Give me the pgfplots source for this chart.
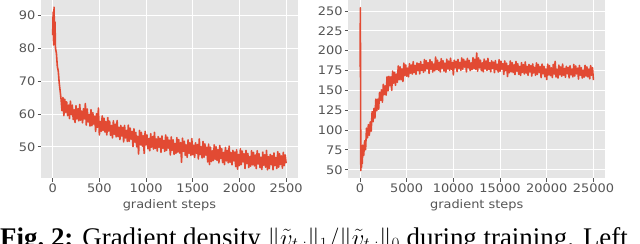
\documentclass[border=0pt]{standalone}
\usepackage{fontspec}
\setmainfont{Liberation Serif}
\newfontfamily\dejavu[FakeStretch=1.1]{DejaVu Sans}
\usepackage{pgfplots}
\usepackage{pgfplotstable}
\pgfplotsset{compat=1.18}
\definecolor{ggbg}{HTML}{E5E5E5}
\definecolor{ggred}{HTML}{E24A33}
\definecolor{gggray}{HTML}{555555}

\pgfplotstableread{
x y
0 84
5 91
10 81
15 92.5
20 82.5
25 88
30 80
40 78.5
50 74.5
60 73
70 69.5
80 67
90 64.5
100 61
110 65
120 59.5
130 64.5
140 60.5
150 63.7
160 59.5
170 62.7
180 58.6
190 63.9
200 59.8
210 62.7
220 58.3
230 61.3
240 57.4
250 62.5
260 58.5
270 61.6
280 57.9
290 62.9
300 58.1
310 60.9
320 57.3
330 61.6
340 58.5
350 63.2
360 56.6
370 61.5
380 57.6
390 59.8
400 56.3
410 61.3
420 56.4
430 60.4
440 56.9
450 59.3
460 54.7
470 60.1
480 55.9
490 61.8
500 53.6
510 57.7
520 54.7
530 59.4
540 55.0
550 58.7
560 54.5
570 57.7
580 53.6
590 58.9
600 54.8
610 57.8
620 53.5
630 56.5
640 52.7
650 57.9
660 53.8
670 56.9
680 53.0
690 58.0
700 53.1
710 55.9
720 52.2
730 56.5
740 53.3
750 55.9
760 51.5
770 56.5
780 52.7
790 55.0
800 51.6
810 56.6
820 51.7
830 55.7
840 52.3
850 54.7
860 50.1
870 55.5
880 51.4
890 54.4
900 50.0
910 53.2
920 47.8
930 55.0
940 50.6
950 54.4
960 50.2
970 53.4
980 48.0
990 54.7
1000 50.6
1010 53.6
1020 49.4
1030 52.5
1040 48.8
1050 54.0
1060 49.9
1070 53.1
1080 49.3
1090 54.4
1100 49.5
1110 52.4
1120 48.7
1130 53.1
1140 49.9
1150 52.6
1160 48.3
1170 53.3
1180 49.6
1190 51.9
1200 48.6
1210 53.6
1220 48.9
1230 52.9
1240 49.6
1250 52.0
1260 47.5
1270 53.0
1280 48.9
1290 52.1
1300 47.7
1310 51.0
1320 48.0
1330 52.8
1340 48.4
1350 52.2
1360 48.1
1370 51.3
1380 45.3
1390 52.6
1400 48.6
1410 51.7
1420 47.4
1430 50.6
1440 46.8
1450 52.1
1460 48.0
1470 51.2
1480 47.4
1490 52.5
1500 47.6
1510 50.5
1520 46.8
1530 51.2
1540 48.0
1550 50.7
1560 46.3
1570 52.4
1580 47.6
1590 50.0
1600 46.6
1610 51.6
1620 46.8
1630 50.9
1640 47.5
1650 49.9
1660 45.4
1670 50.8
1680 44.6
1690 49.9
1700 45.5
1710 48.8
1720 45.8
1730 50.6
1740 46.2
1750 50.0
1760 45.9
1770 49.1
1780 45.1
1790 50.4
1800 46.4
1810 49.4
1820 45.2
1830 48.3
1840 44.6
1850 49.8
1860 45.7
1870 48.9
1880 45.1
1890 50.2
1900 45.3
1910 48.2
1920 44.5
1930 48.9
1940 45.7
1950 48.4
1960 44.0
1970 49.1
1980 43.2
1990 47.7
2000 44.3
2010 49.4
2020 44.6
2030 48.7
2040 45.4
2050 47.9
2060 43.4
2070 48.9
2080 44.9
2090 48.0
2100 43.7
2110 47.0
2120 44.1
2130 48.8
2140 44.5
2150 48.3
2160 44.2
2170 47.5
2180 43.4
2190 48.8
2200 44.8
2210 47.9
2220 43.7
2230 46.8
2240 43.1
2250 48.4
2260 44.4
2270 47.6
2280 43.8
2290 48.9
2300 43.0
2310 47.0
2320 43.4
2330 47.7
2340 44.6
2350 47.3
2360 43.0
2370 48.1
2380 44.3
2390 46.7
2400 43.4
2410 48.5
2420 43.8
2430 47.9
2440 44.6
2450 47.2
2460 43.5
2470 48.3
2480 44.3
2490 47.5
2500 45.0
}\leftdata

\pgfplotstableread{
x y
0 180
20 182
40 254
90 49
130 74
170 53
210 80
250 58
300 81
400 68.2
500 86.4
600 75.2
700 102.4
800 90.2
900 106.8
1000 93.4
1100 110.1
1200 98.6
1300 123.2
1400 110.5
1500 127.2
1600 115.1
1700 139
1800 124.4
1900 138.8
2000 126.3
2100 147.4
2200 137.3
2300 150.6
2400 135.2
2500 157.6
2600 144.6
2700 155.7
2800 144
2900 167
3000 149.3
3100 167.6
3200 155.9
3300 167
3400 150
3500 174.3
3600 159.1
3700 172.7
3800 156.3
3900 170.5
4000 160.1
4100 180.7
4200 163.4
4300 179.5
4400 163.2
4500 176.9
4600 161.2
4700 184.2
4800 168.7
4900 182
5000 167.8
5100 178
5200 167
5300 183.5
5400 171.7
5500 181.9
5600 170.5
5700 186.1
5800 172.4
5900 181.3
6000 170.3
6100 184.5
6200 175.2
6300 183.5
6400 170.7
6500 186.2
6600 175.1
6700 182.5
6800 172.8
6900 188.8
7000 174.6
7100 187.3
7200 177.5
7300 184.8
7400 171.4
7500 188.6
7600 176.5
7700 186.1
7800 173.1
7900 183.1
8000 174.7
8100 192
8200 176.1
8300 187.9
8400 175.3
8500 185.3
8600 173.2
8700 189.9
8800 177.8
8900 187.3
9000 174.3
9100 184.2
9200 172.9
9300 189.2
9400 177
9500 186.9
9600 175.2
9700 190.5
9800 176.6
9900 185.1
10000 169.5
10100 187.9
10200 178.5
10300 186.6
10400 173.6
10500 188.9
10600 177.8
10700 185
10800 175.2
10900 190.9
11000 176.6
11100 189.2
11200 179.4
11300 186.6
11400 173.2
11500 190.3
11600 178.3
11700 187.7
11800 174.8
11900 184.7
12000 176.2
12100 191.1
12200 177.5
12300 189.2
12400 176.5
12500 197
12600 174.1
12700 190.8
12800 178.5
12900 188
13000 174.8
13100 184.6
13200 173.3
13300 189.4
13400 177.1
13500 186.9
13600 175.1
13700 190.3
13800 176.3
13900 184.7
14000 173.4
14100 187.2
14200 177.6
14300 185.5
14400 172.3
14500 187.4
14600 176
14700 183
14800 173.1
14900 188.6
15000 174.1
15100 186.6
15200 176.6
15300 183.7
15400 170.1
15500 187.1
15600 174.9
15700 184.2
15800 167.5
15900 180.9
16000 172.2
16100 187
16200 173.4
16300 185
16400 172.3
16500 182.1
16600 169.8
16700 186.4
16800 174.1
16900 183.5
17000 170.3
17100 180.1
17200 168.8
17300 184.9
17400 172.6
17500 182.4
17600 170.6
17700 185.8
17800 171.8
17900 180.2
18000 168.9
18100 182.7
18200 173.2
18300 181.2
18400 168
18500 183.2
18600 171.9
18700 179
18800 169
18900 184.6
19000 170.1
19100 182.6
19200 172.6
19300 179.7
19400 166.1
19500 183.1
19600 170.9
19700 180.2
19800 167.1
19900 176.9
20000 163.5
20100 183
20200 169.5
20300 181.1
20400 168.5
20500 178.3
20600 166.1
20700 182.7
20800 170.5
20900 186.5
21000 166.8
21100 176.7
21200 165.5
21300 181.7
21400 169.5
21500 179.4
21600 167.7
21700 183
21800 169.1
21900 177.6
22000 166.4
22100 180.3
22200 170.8
22300 178.8
22400 165.7
22500 181
22600 169.7
22700 176.8
22800 166.9
22900 182.6
23000 168.1
23100 180.7
23200 170.7
23300 177.9
23400 164.3
23500 181.4
23600 169.2
23700 178.6
23800 165.5
23900 175.3
24000 166.7
24100 181.5
24200 168
24300 179.6
24400 167
24500 176.8
24600 164.6
24700 181.2
24800 169
24900 178.4
25000 163
}\rightdata

\pgfplotsset{ggstyle/.style={
  width=256.8bp, height=178bp, scale only axis,
  axis background/.style={fill=ggbg},
  axis line style={draw=none},
  grid=major, major grid style={white, line width=0.9bp},
  tick align=outside, major tick length=3.5bp,
  tick style={gggray, line width=0.8bp},
  tick pos=left,
  ticklabel style={font=\dejavu\fontsize{11.8}{13}\selectfont, text=gggray, inner sep=0pt},
  xticklabel style={anchor=north, yshift=-2bp},
  yticklabel style={anchor=east, xshift=-2bp},
  /pgf/number format/assume math mode=true,
  /pgf/number format/1000 sep={},
  scaled ticks=false,
  xlabel style={font=\dejavu\fontsize{11.8}{13}\selectfont, text=gggray, inner sep=0pt,
    at={(axis description cs:0.5,0)}, anchor=north, yshift=-21bp},
  clip=true,
}}

\begin{document}
\begin{tikzpicture}[x=1bp,y=1bp]
\begin{axis}[ggstyle, at={(41bp,66bp)}, anchor=south west,
  xmin=-125, xmax=2625, ymin=40.5, ymax=94.7,
  xtick={0,500,1000,1500,2000,2500}, ytick={50,60,70,80,90},
  xlabel={gradient steps}]
\addplot[ggred, line width=1.6bp, line join=round] table[x=x, y=y] {\leftdata};
\end{axis}
\begin{axis}[ggstyle, at={(348.3bp,66bp)}, anchor=south west,
  xmin=-1250, xmax=26250, ymin=39.6, ymax=263.8,
  xtick={0,5000,10000,15000,20000,25000}, ytick={50,75,100,125,150,175,200,225,250},
  xlabel={gradient steps}]
\addplot[ggred, line width=1.6bp, line join=round] table[x=x, y=y] {\rightdata};
\end{axis}
\node[anchor=base west, inner sep=0pt, font=\fontsize{27}{30}\selectfont] at (0bp,-2bp)
  {\textbf{Fig.~2:} Gradient density $\|\tilde{v}_{t,:}\|_1/\|\tilde{v}_{t,:}\|_0$ during training. Left};
\pgfresetboundingbox
\path[use as bounding box] (0,0) rectangle (640bp,244bp);
\end{tikzpicture}
\end{document}
